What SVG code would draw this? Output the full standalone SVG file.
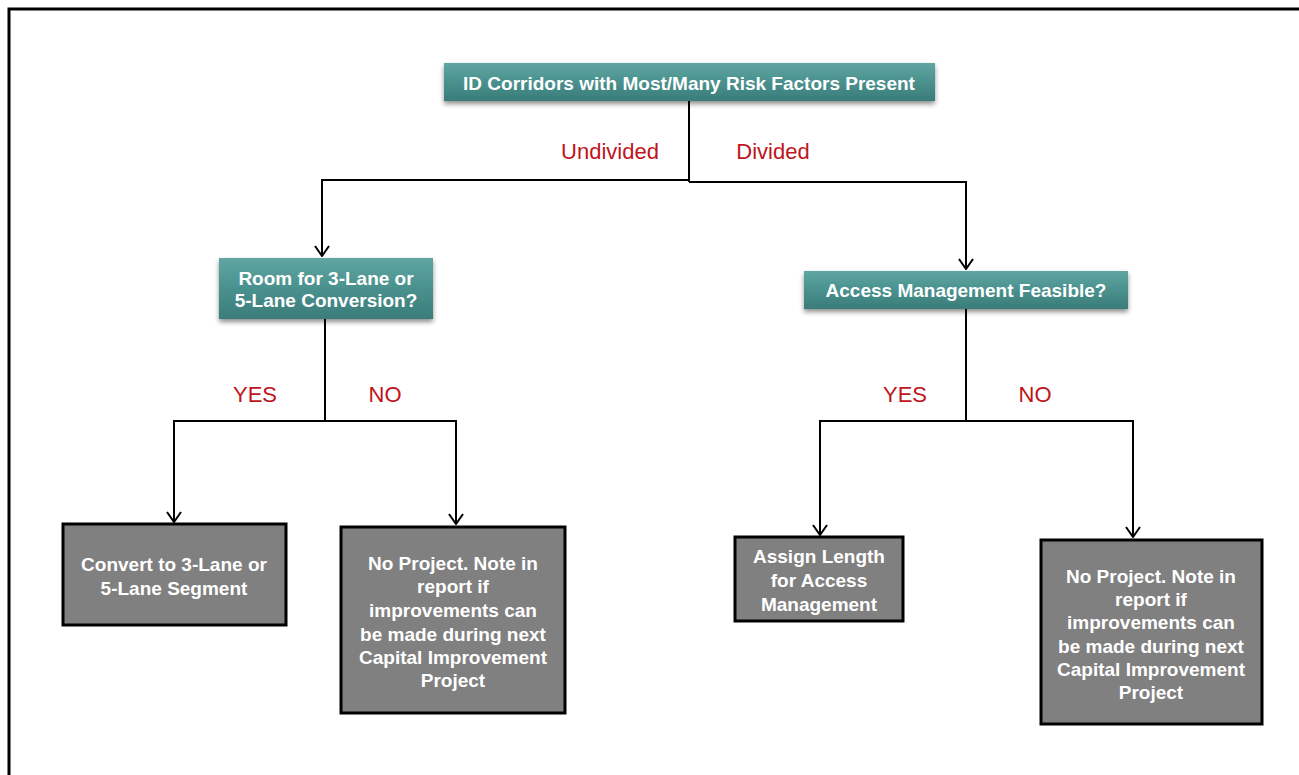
<svg xmlns="http://www.w3.org/2000/svg" width="1299" height="775" viewBox="0 0 1299 775">
<defs>
<linearGradient id="teal" x1="0" y1="0" x2="0" y2="1">
<stop offset="0" stop-color="#5fa6a3"/>
<stop offset="0.5" stop-color="#4a918e"/>
<stop offset="1" stop-color="#3a7c79"/>
</linearGradient>
<filter id="sh" x="-10%" y="-20%" width="120%" height="150%">
<feGaussianBlur in="SourceAlpha" stdDeviation="2.5"/>
<feOffset dx="0" dy="3" result="b"/>
<feComponentTransfer><feFuncA type="linear" slope="0.45"/></feComponentTransfer>
<feMerge><feMergeNode/><feMergeNode in="SourceGraphic"/></feMerge>
</filter>
<marker id="arr" markerWidth="12" markerHeight="16" refX="11" refY="8" orient="auto" markerUnits="userSpaceOnUse" viewBox="0 0 12 16">
<path d="M1,1 L11,8 L1,15" fill="none" stroke="#000" stroke-width="2"/>
</marker>
</defs>
<style>
.frame{stroke:#000;stroke-width:3;fill:none}
.tealbox{fill:url(#teal);filter:url(#sh)}
.graybox{fill:#808080;stroke:#000;stroke-width:3}
.tt{font-family:"Liberation Sans",Arial,sans-serif;font-weight:bold;font-size:19px;fill:#fff;text-anchor:middle}
.lbl{font-family:"Liberation Sans",Arial,sans-serif;font-size:22px;fill:#c0141c;text-anchor:middle}
.line{stroke:#000;stroke-width:2;fill:none}
</style>
<rect width="1299" height="775" fill="#fff"/>
<path class="frame" d="M9,775 L9,9 L1299,9"/>

<g id="connectors">
<path class="line" d="M689,101 L689,182"/>
<path class="line" d="M689,180 L322,180 L322,256" marker-end="url(#arr)"/>
<path class="line" d="M689,182 L966,182 L966,269" marker-end="url(#arr)"/>
<path class="line" d="M325,319 L325,421"/>
<path class="line" d="M325,421 L174,421 L174,522" marker-end="url(#arr)"/>
<path class="line" d="M325,421 L456,421 L456,524" marker-end="url(#arr)"/>
<path class="line" d="M966,309 L966,421"/>
<path class="line" d="M966,421 L820,421 L820,535" marker-end="url(#arr)"/>
<path class="line" d="M966,421 L1133,421 L1133,537" marker-end="url(#arr)"/>
</g>

<g id="labels">
<text class="lbl" x="610" y="159">Undivided</text>
<text class="lbl" x="773" y="159">Divided</text>
<text class="lbl" x="255" y="402">YES</text>
<text class="lbl" x="385" y="402">NO</text>
<text class="lbl" x="905" y="402">YES</text>
<text class="lbl" x="1035" y="402">NO</text>
</g>

<g id="n-top">
<rect class="tealbox" x="444" y="63" width="491" height="38"/>
<text class="tt" x="689" y="90">ID Corridors with Most/Many Risk Factors Present</text>
</g>

<g id="n-room">
<rect class="tealbox" x="219" y="258" width="214" height="61"/>
<text class="tt" x="326" y="285">Room for 3-Lane or</text>
<text class="tt" x="326" y="307">5-Lane Conversion?</text>
</g>

<g id="n-access">
<rect class="tealbox" x="804" y="271" width="324" height="38"/>
<text class="tt" x="966" y="297">Access Management Feasible?</text>
</g>

<g id="n-convert">
<rect class="graybox" x="63" y="524" width="223" height="101"/>
<text class="tt" x="174" y="571">Convert to 3-Lane or</text>
<text class="tt" x="174" y="595">5-Lane Segment</text>
</g>

<g id="n-noproj1">
<rect class="graybox" x="341" y="527" width="224" height="186"/>
<text class="tt" x="453" y="570">No Project. Note in</text>
<text class="tt" x="453" y="593">report if</text>
<text class="tt" x="453" y="617">improvements can</text>
<text class="tt" x="453" y="641">be made during next</text>
<text class="tt" x="453" y="664">Capital Improvement</text>
<text class="tt" x="453" y="687">Project</text>
</g>

<g id="n-assign">
<rect class="graybox" x="735" y="537" width="168" height="84"/>
<text class="tt" x="819" y="563">Assign Length</text>
<text class="tt" x="819" y="587">for Access</text>
<text class="tt" x="819" y="611">Management</text>
</g>

<g id="n-noproj2">
<rect class="graybox" x="1041" y="540" width="221" height="184"/>
<text class="tt" x="1151" y="583">No Project. Note in</text>
<text class="tt" x="1151" y="606">report if</text>
<text class="tt" x="1151" y="629">improvements can</text>
<text class="tt" x="1151" y="653">be made during next</text>
<text class="tt" x="1151" y="676">Capital Improvement</text>
<text class="tt" x="1151" y="699">Project</text>
</g>
</svg>
